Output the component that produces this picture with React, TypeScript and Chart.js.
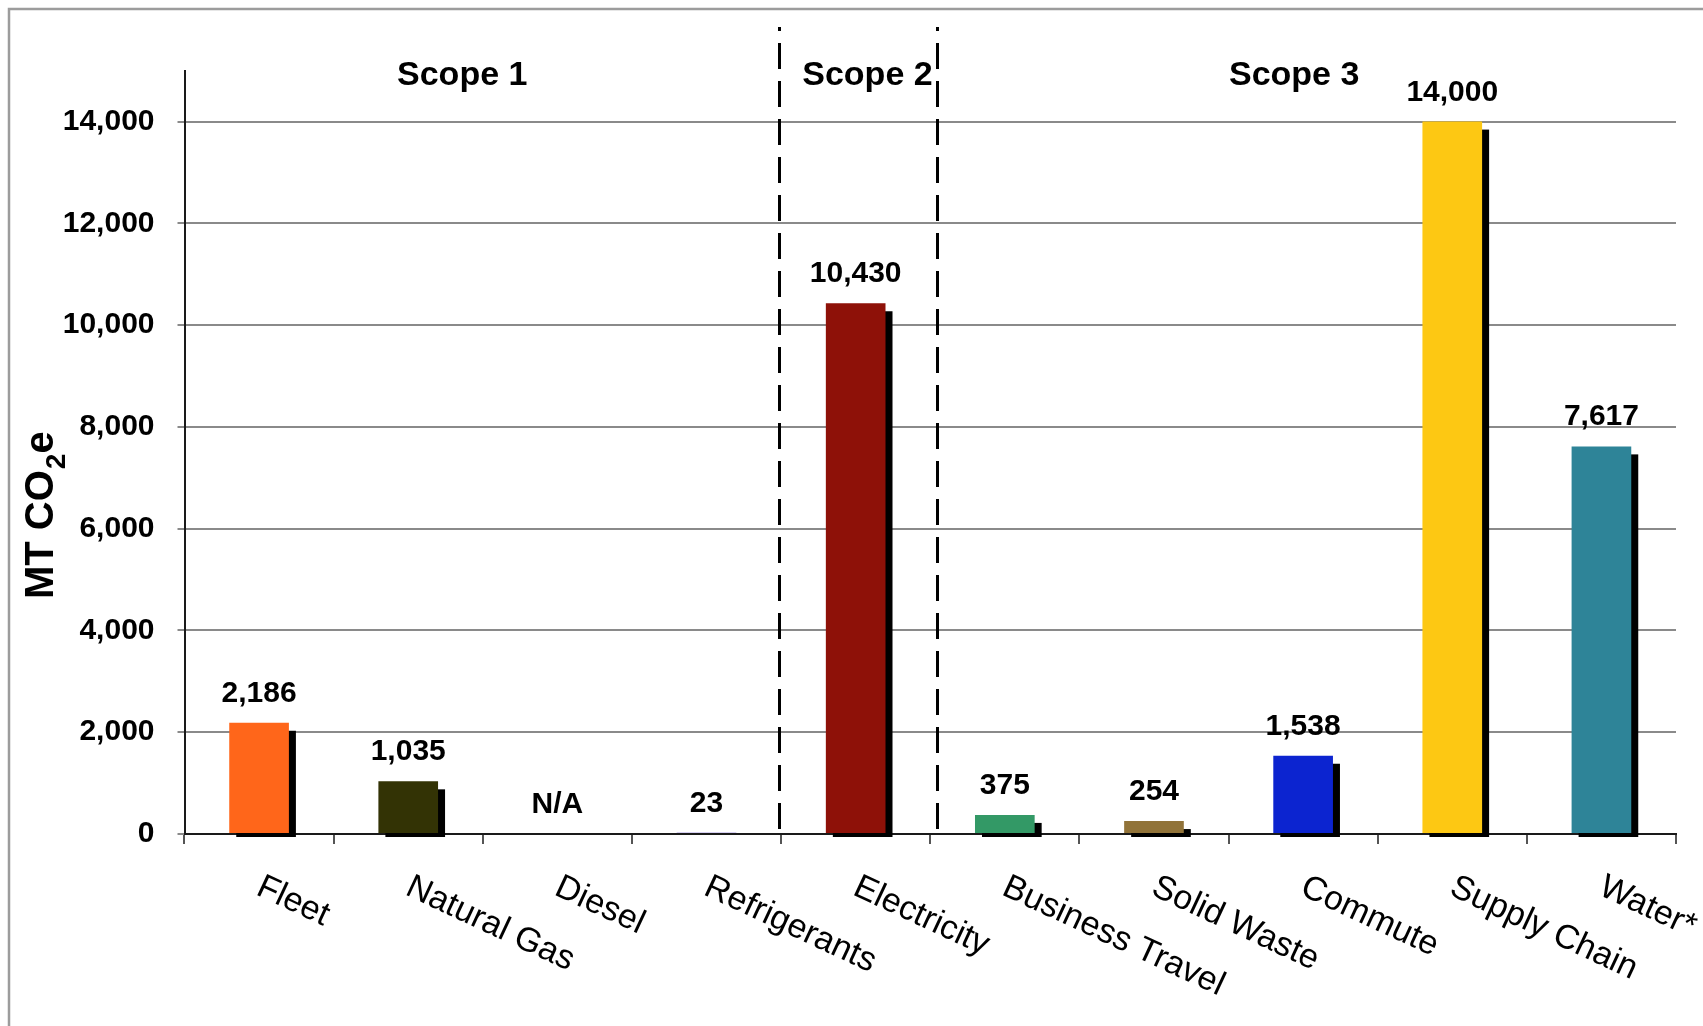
import { useEffect, useRef } from 'react';
import { Chart, registerables } from 'chart.js';

Chart.register(...registerables);

const categories = [
  'Fleet',
  'Natural Gas',
  'Diesel',
  'Refrigerants',
  'Electricity',
  'Business Travel',
  'Solid Waste',
  'Commute',
  'Supply Chain',
  'Water*',
];
const emissions: (number | null)[] = [2186, 1035, null, 23, 10430, 375, 254, 1538, 14000, 7617];
const barColors = [
  '#ff661a',
  '#333305',
  '#808080',
  '#5a3cc8',
  '#8e1108',
  '#339966',
  '#917339',
  '#0c24d0',
  '#fdc813',
  '#2e8498',
];
const scopeLabels = ['Scope 1', 'Scope 2', 'Scope 3'];
const yTickValues = [0, 2000, 4000, 6000, 8000, 10000, 12000, 14000];
const yAxisMax = 15000;
const missingLabel = 'N/A';
const yTitleParts = ['MT CO', '2', 'e'];

const FONT = '"Liberation Sans", Arial, Helvetica, sans-serif';

// layout constants (positions in category units along the x scale)
const SCOPE_POS = [1.362, 4.079, 6.94];
const DIVIDER_POS = [3.484, 4.544];

const decorPlugin = {
  id: 'decor',
  beforeDraw(chart: any) {
    const ctx = chart.ctx;
    ctx.save();
    ctx.fillStyle = '#ffffff';
    ctx.fillRect(0, 0, chart.width, chart.height);
    ctx.strokeStyle = '#9c9c9c';
    ctx.lineWidth = 2.5;
    ctx.strokeRect(9, 9, chart.width + 40, chart.height + 40);
    ctx.restore();
  },
  beforeDatasetsDraw(chart: any) {
    const ctx = chart.ctx;
    const meta = chart.getDatasetMeta(0);
    ctx.save();
    ctx.fillStyle = '#000000';
    meta.data.forEach((el: any, i: number) => {
      if (emissions[i] == null) return;
      const w = el.width;
      const top = el.y + 8;
      const bottom = el.base + 4;
      if (bottom - top <= 4) return;
      ctx.fillRect(el.x - w / 2 + 7, top, w, bottom - top);
    });
    ctx.restore();
  },
  afterDatasetsDraw(chart: any) {
    const ctx = chart.ctx;
    const xs = chart.scales.x;
    const ys = chart.scales.y;
    const area = chart.chartArea;
    ctx.save();

    // value labels
    ctx.fillStyle = '#000';
    ctx.font = `bold 30px ${FONT}`;
    ctx.textAlign = 'center';
    ctx.textBaseline = 'alphabetic';
    emissions.forEach((v, i) => {
      const x = xs.getPixelForValue(i);
      const top = ys.getPixelForValue(v == null ? 0 : v);
      const txt = v == null ? missingLabel : v.toLocaleString('en-US');
      ctx.fillText(txt, x, top - 21);
    });

    // dashed dividers
    ctx.strokeStyle = '#000';
    ctx.lineWidth = 3;
    ctx.setLineDash([26, 12]);
    ctx.lineDashOffset = 22;
    DIVIDER_POS.forEach((p) => {
      const x = Math.round(xs.getPixelForValue(p)) + 0.5;
      ctx.beginPath();
      ctx.moveTo(x, 27);
      ctx.lineTo(x, area.bottom);
      ctx.stroke();
    });
    ctx.setLineDash([]);

    // scope labels
    ctx.font = `bold 34px ${FONT}`;
    ctx.textAlign = 'center';
    scopeLabels.forEach((s, i) => {
      ctx.fillText(s, xs.getPixelForValue(SCOPE_POS[i]), 85);
    });

    // rotated category labels
    ctx.font = `34px ${FONT}`;
    ctx.textAlign = 'left';
    const ang = (25 * Math.PI) / 180;
    categories.forEach((c, i) => {
      const x = xs.getPixelForValue(i) + 6;
      ctx.save();
      ctx.translate(x, 872);
      ctx.rotate(ang);
      ctx.fillText(c, 0, 0.716 * 34);
      ctx.restore();
    });

    // y axis title with subscript
    ctx.save();
    ctx.translate(53, 599);
    ctx.rotate(-Math.PI / 2);
    ctx.textAlign = 'left';
    ctx.font = `bold 40px ${FONT}`;
    ctx.fillText(yTitleParts[0], 0, 0);
    const w1 = ctx.measureText(yTitleParts[0]).width;
    ctx.font = `bold 28px ${FONT}`;
    ctx.fillText(yTitleParts[1], w1 + 1, 12);
    const w2 = ctx.measureText(yTitleParts[1]).width;
    ctx.font = `bold 40px ${FONT}`;
    ctx.fillText(yTitleParts[2], w1 + w2 + 1, 0);
    ctx.restore();

    ctx.restore();
  },
};

export default function App() {
  const canvasRef = useRef<HTMLCanvasElement | null>(null);

  useEffect(() => {
    if (!canvasRef.current) return;
    const chart = new Chart(canvasRef.current, {
      type: 'bar',
      data: {
        labels: categories,
        datasets: [
          {
            data: emissions as any,
            backgroundColor: barColors,
            borderWidth: 0,
            categoryPercentage: 1,
            barPercentage: 0.4,
          },
        ],
      },
      options: {
        animation: false,
        responsive: true,
        maintainAspectRatio: false,
        devicePixelRatio: 1,
        layout: { padding: { left: 0, right: 27, top: 70.7, bottom: 0 } },
        plugins: {
          legend: { display: false },
          title: { display: false },
          tooltip: { enabled: false },
        },
        scales: {
          x: {
            offset: true,
            ticks: { display: false },
            grid: {
              offset: true,
              drawOnChartArea: false,
              drawTicks: true,
              tickLength: 10,
              color: '#555',
              lineWidth: 2,
            },
            border: { display: true, color: '#1a1a1a', width: 2 },
            afterFit: (scale: any) => {
              scale.height = 192;
            },
          },
          y: {
            min: 0,
            max: yAxisMax,
            ticks: {
              padding: 23,
              color: '#000',
              font: { family: FONT, size: 30, weight: 'bold' },
              callback: (v: any) => Number(v).toLocaleString('en-US'),
            },
            afterBuildTicks: (scale: any) => {
              scale.ticks = yTickValues.map((v) => ({ value: v }));
            },
            grid: {
              color: '#8a8a8a',
              lineWidth: 2,
              tickLength: 7,
              drawTicks: true,
            },
            border: { display: true, color: '#1a1a1a', width: 2 },
            afterFit: (scale: any) => {
              scale.width = 184.5;
            },
          },
        },
      } as any,
      plugins: [decorPlugin],
    });
    return () => chart.destroy();
  }, []);

  return (
    <div
      style={{
        position: 'fixed',
        left: 0,
        top: 0,
        width: '1703px',
        height: '1026px',
        background: '#fff',
      }}
    >
      <canvas ref={canvasRef} />
    </div>
  );
}
